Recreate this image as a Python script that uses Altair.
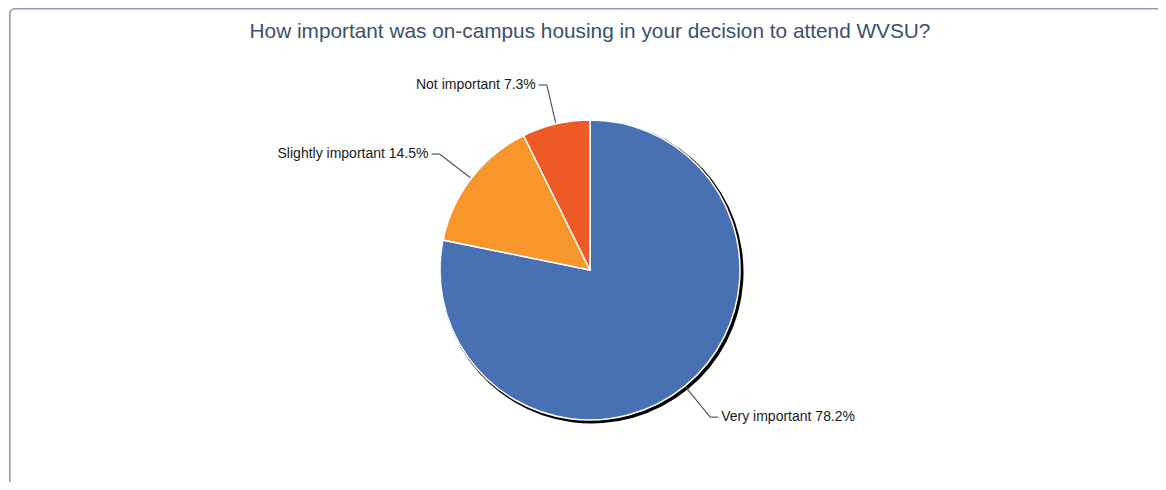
import altair as alt
import pandas as pd

TITLE = "How important was on-campus housing in your decision to attend WVSU?"
categories = ["Very important", "Slightly important", "Not important"]
values = [78.2, 14.5, 7.3]
colors = ["#4a70b4", "#f7962b", "#ee5a26"]
order = [1, 2, 3]

df = pd.DataFrame({"cat": categories, "value": values, "order": order})

W, H = 1149, 474
CX, CY = 581, 262
R = 150
R_ELBOW = 190

base = alt.Chart(df).transform_window(
    cum="sum(value)", sort=[alt.SortField("order")], frame=[None, 0]
).transform_joinaggregate(total="sum(value)").transform_calculate(
    mid="((datum.cum - datum.value / 2) / datum.total) * 2 * PI",
    label="datum.cat + ' ' + format(datum.value, '.1f') + '%'",
).transform_calculate(
    sx=f"{CX} + {R + 1} * sin(datum.mid)",
    sy=f"{CY} - {R + 1} * cos(datum.mid)",
    ex=f"{CX} + {R_ELBOW} * sin(datum.mid)",
    ey=f"{CY} - {R_ELBOW} * cos(datum.mid)",
    side="sin(datum.mid) < 0 ? -1 : 1",
).transform_calculate(
    hx="datum.ex + 8 * datum.side",
    tx="datum.ex + 11 * datum.side",
)

color_scale = alt.Scale(domain=categories, range=colors)

shadow = alt.Chart(df).mark_arc(outerRadius=R + 1.5, color="#000000").encode(
    theta=alt.Theta("value:Q"),
    order=alt.Order("order:Q"),
    x=alt.value(CX + 2),
    y=alt.value(CY + 2),
)

pie = alt.Chart(df).mark_arc(outerRadius=R, stroke="white", strokeWidth=1.5).encode(
    theta=alt.Theta("value:Q", stack=True),
    color=alt.Color("cat:N", scale=color_scale, legend=None),
    order=alt.Order("order:Q"),
    x=alt.value(CX),
    y=alt.value(CY),
)

radial = base.mark_rule(color="#555555", strokeWidth=1.2).encode(
    x=alt.X("sx:Q", scale=None, axis=None),
    y=alt.Y("sy:Q", scale=None, axis=None),
    x2="ex:Q",
    y2="ey:Q",
)

tick = base.mark_rule(color="#555555", strokeWidth=1.2).encode(
    x=alt.X("ex:Q", scale=None, axis=None),
    y=alt.Y("ey:Q", scale=None, axis=None),
    x2="hx:Q",
)

labels_left = base.transform_filter("datum.side < 0").mark_text(
    align="right", baseline="middle", font="Liberation Sans", fontSize=14, color="#1a1a1a"
).encode(
    x=alt.X("tx:Q", scale=None, axis=None),
    y=alt.Y("ey:Q", scale=None, axis=None),
    text="label:N",
)
labels_right = base.transform_filter("datum.side > 0").mark_text(
    align="left", baseline="middle", font="Liberation Sans", fontSize=14, color="#1a1a1a"
).encode(
    x=alt.X("tx:Q", scale=None, axis=None),
    y=alt.Y("ey:Q", scale=None, axis=None),
    text="label:N",
)

title = alt.Chart(alt.Data(values=[{"t": TITLE}])).mark_text(
    align="center", baseline="alphabetic", font="Liberation Sans", fontSize=20.8, color="#3b506c"
).encode(
    text="t:N",
    x=alt.value(CX),
    y=alt.value(30),
)

border = alt.Chart(alt.Data(values=[{"b": 1}])).mark_rect(
    fill=None, fillOpacity=0, stroke="#8c9cb8", strokeWidth=1.6, cornerRadius=5, clip=True
).encode(
    x=alt.value(0.8),
    y=alt.value(0.8),
    x2=alt.value(W + 30),
    y2=alt.value(H + 30),
)

chart = alt.layer(border, title, shadow, pie, radial, tick, labels_left, labels_right).properties(
    width=W, height=H,
    autosize=alt.AutoSizeParams(type="none"),
    padding={"left": 1, "top": 0, "right": 0, "bottom": 0},
    background="white",
).configure_view(stroke=None)

chart.save("out.html", embed_options={"renderer": "svg", "actions": False})
